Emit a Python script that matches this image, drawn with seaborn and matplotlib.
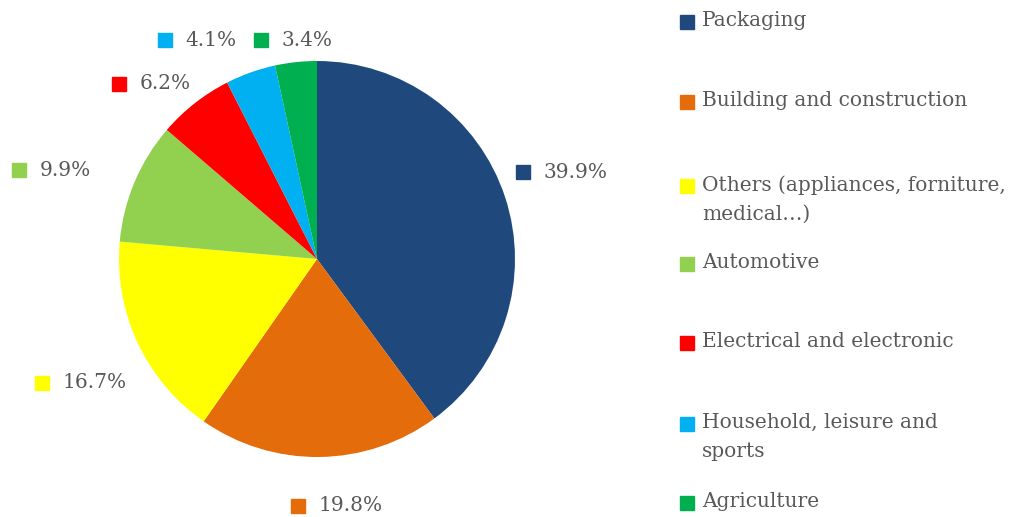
import matplotlib
matplotlib.use('Agg')
import matplotlib.pyplot as plt
import seaborn as sns

# Data
sectors = ['Packaging', 'Building and construction', 'Others (appliances, forniture,\nmedical\u2026)',
           'Automotive', 'Electrical and electronic', 'Household, leisure and\nsports', 'Agriculture']
shares = [39.9, 19.8, 16.7, 9.9, 6.2, 4.1, 3.4]
colors = ['#1F497D', '#E46C0A', '#FFFF00', '#92D050', '#FF0000', '#00B0F0', '#00B050']

# Layout (data units, pie radius = 1)
label_pos = [(1.040, 0.439), (-0.096, -1.247), (-1.389, -0.626), (-1.505, 0.449),
             (-1.0, 0.884), (-0.768, 1.106), (-0.283, 1.106)]
legend_rows_px = [22, 102, 186, 264, 343, 424, 503]

sns.set_theme(style='white')
plt.rcParams['font.family'] = ['DejaVu Serif']
text_color = '#595959'
fsize = 14.5

fig = plt.figure(figsize=(10.13, 5.17), dpi=100)
ax = fig.add_axes([0, 0, 1, 1])
ax.pie(shares, colors=colors, startangle=90, counterclock=False, radius=1,
       wedgeprops=dict(linewidth=0))
ax.set_xlim(-317 / 198, (1013 - 317) / 198)
ax.set_ylim(-(517 - 259) / 198, 259 / 198)
ax.set_aspect('auto')
ax.axis('off')

# Percent labels with colored squares
for (x, y), v, c in zip(label_pos, shares, colors):
    ax.plot(x, y, marker='s', markersize=9.4, color=c, linestyle='none')
    ax.text(x + 0.105, y, f'{v:.1f}%', ha='left', va='center', fontsize=fsize, color=text_color)

# Legend
sq_x = (687 - 317) / 198
tx_x = (702 - 317) / 198
for name, c, py in zip(sectors, colors, legend_rows_px):
    y = (259 - py) / 198
    ax.plot(sq_x, y, marker='s', markersize=10, color=c, linestyle='none')
    ax.text(tx_x, y + 0.056, name, ha='left', va='top', fontsize=fsize,
            color=text_color, linespacing=1.65)

fig.savefig('out.png', dpi=100)
